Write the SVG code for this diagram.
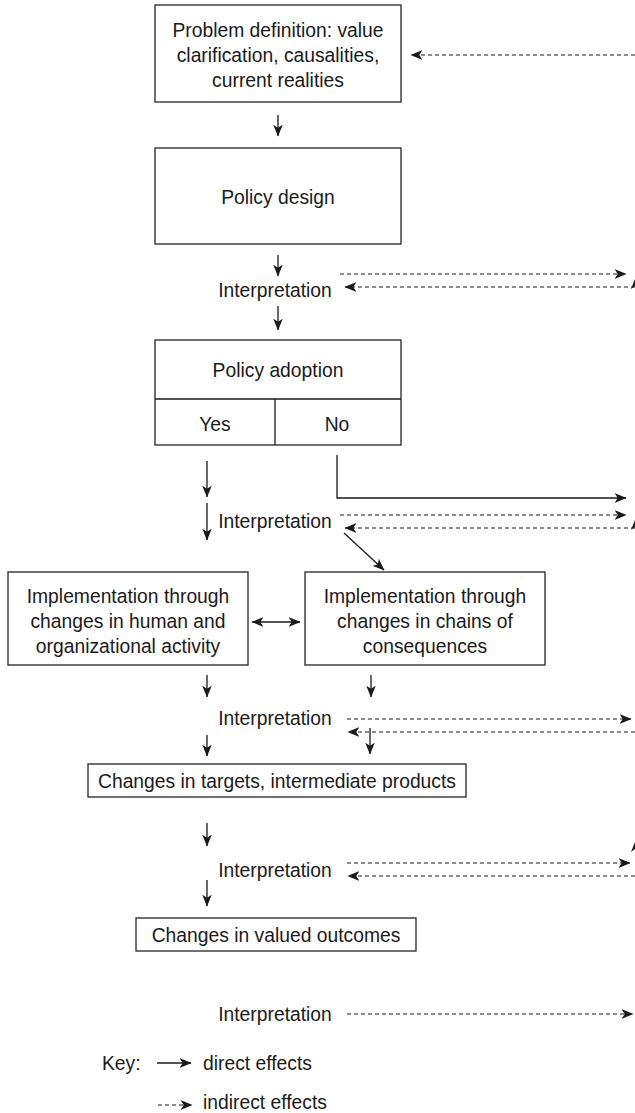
<svg xmlns="http://www.w3.org/2000/svg" width="635" height="1113" viewBox="0 0 635 1113">
<defs>
<marker id="ah" viewBox="0 0 10 8" refX="9.5" refY="4" markerWidth="12" markerHeight="9.5" markerUnits="userSpaceOnUse" orient="auto-start-reverse">
<path d="M0,0 L10,4 L0,8 L2.5,4 z" fill="#1a1a1a"/>
</marker>
<style>
text{font-family:"Liberation Sans",Arial,sans-serif;font-size:19.3px;fill:#1a1a1a}
.c{text-anchor:middle}
.box{fill:#fff;stroke:#333;stroke-width:1.4}
.s{stroke:#1a1a1a;stroke-width:1.3;fill:none}
.d{stroke:#1a1a1a;stroke-width:1.2;fill:none;stroke-dasharray:4 3}
.a{marker-end:url(#ah)}
.b{marker-start:url(#ah);marker-end:url(#ah)}
.h{fill:#1a1a1a}
</style>
</defs>
<g id="n-problem">
<rect class="box" x="155" y="5" width="246" height="97"/>
<text class="c" x="278" y="37">Problem definition: value</text>
<text class="c" x="278" y="62">clarification, causalities,</text>
<text class="c" x="278" y="87">current realities</text>
</g>
<g id="n-design">
<rect class="box" x="155" y="148" width="246" height="96"/>
<text class="c" x="278" y="204">Policy design</text>
</g>
<g id="n-interp1"><text class="c" x="275" y="297">Interpretation</text></g>
<g id="n-adoption">
<rect class="box" x="155" y="340" width="246" height="105"/>
<line class="s" x1="155" y1="399" x2="401" y2="399"/>
<line class="s" x1="275" y1="399" x2="275" y2="445"/>
<text class="c" x="278" y="377">Policy adoption</text>
<text class="c" x="215" y="431">Yes</text>
<text class="c" x="337" y="431">No</text>
</g>
<g id="n-interp2"><text class="c" x="275" y="528">Interpretation</text></g>
<g id="n-impl-human">
<rect class="box" x="8" y="572" width="240" height="93"/>
<text class="c" x="128" y="603">Implementation through</text>
<text class="c" x="128" y="628">changes in human and</text>
<text class="c" x="128" y="653">organizational activity</text>
</g>
<g id="n-impl-chains">
<rect class="box" x="305" y="572" width="240" height="93"/>
<text class="c" x="425" y="603">Implementation through</text>
<text class="c" x="425" y="628">changes in chains of</text>
<text class="c" x="425" y="653">consequences</text>
</g>
<g id="n-interp3"><text class="c" x="275" y="725">Interpretation</text></g>
<g id="n-targets">
<rect class="box" x="88" y="764" width="378" height="33"/>
<text class="c" x="277" y="788">Changes in targets, intermediate products</text>
</g>
<g id="n-interp4"><text class="c" x="275" y="877">Interpretation</text></g>
<g id="n-outcomes">
<rect class="box" x="136" y="918" width="280" height="33"/>
<text class="c" x="276" y="942">Changes in valued outcomes</text>
</g>
<g id="n-interp5"><text class="c" x="275" y="1021">Interpretation</text></g>
<g id="key">
<text x="102" y="1070">Key:</text>
<line class="s a" x1="157" y1="1063" x2="191" y2="1063"/>
<text x="203" y="1070">direct effects</text>
<line class="d a" x1="158" y1="1105" x2="192" y2="1105"/>
<text x="203" y="1109" font-size="18.5">indirect effects</text>
</g>
<g id="connectors">
<line class="d a" x1="635" y1="55" x2="411" y2="55"/>
<line class="s a" x1="278" y1="115" x2="278" y2="136"/>
<line class="s a" x1="278" y1="255" x2="278" y2="276"/>
<line class="d a" x1="340" y1="274" x2="626" y2="274"/>
<line class="d a" x1="635" y1="287" x2="345" y2="287"/>
<polygon class="h" points="635,279 631,289 635,286"/>
<line class="s a" x1="278" y1="306" x2="278" y2="330"/>
<line class="s a" x1="207" y1="461" x2="207" y2="497"/>
<polyline class="s a" points="337,455 337,498 626,498"/>
<line class="d a" x1="340" y1="515" x2="626" y2="515"/>
<line class="d a" x1="635" y1="528" x2="345" y2="528"/>
<polygon class="h" points="635,520 631,530 635,527"/>
<line class="s a" x1="207" y1="503" x2="207" y2="540"/>
<line class="s a" x1="344" y1="533" x2="384" y2="570"/>
<line class="s b" x1="252" y1="622" x2="300" y2="622"/>
<line class="s a" x1="207" y1="675" x2="207" y2="697"/>
<line class="s a" x1="371" y1="675" x2="371" y2="697"/>
<line class="d a" x1="347" y1="719" x2="631" y2="719"/>
<line class="d a" x1="635" y1="732" x2="348" y2="732"/>
<line class="s a" x1="370" y1="728" x2="370" y2="754"/>
<line class="s a" x1="207" y1="735" x2="207" y2="756"/>
<line class="s a" x1="207" y1="823" x2="207" y2="846"/>
<polygon class="h" points="635,842 631,852 635,849"/>
<line class="d a" x1="347" y1="863" x2="630" y2="863"/>
<line class="d a" x1="635" y1="876" x2="348" y2="876"/>
<line class="s a" x1="207" y1="880" x2="207" y2="906"/>
<line class="d a" x1="347" y1="1014" x2="633" y2="1014"/>
</g>
</svg>
